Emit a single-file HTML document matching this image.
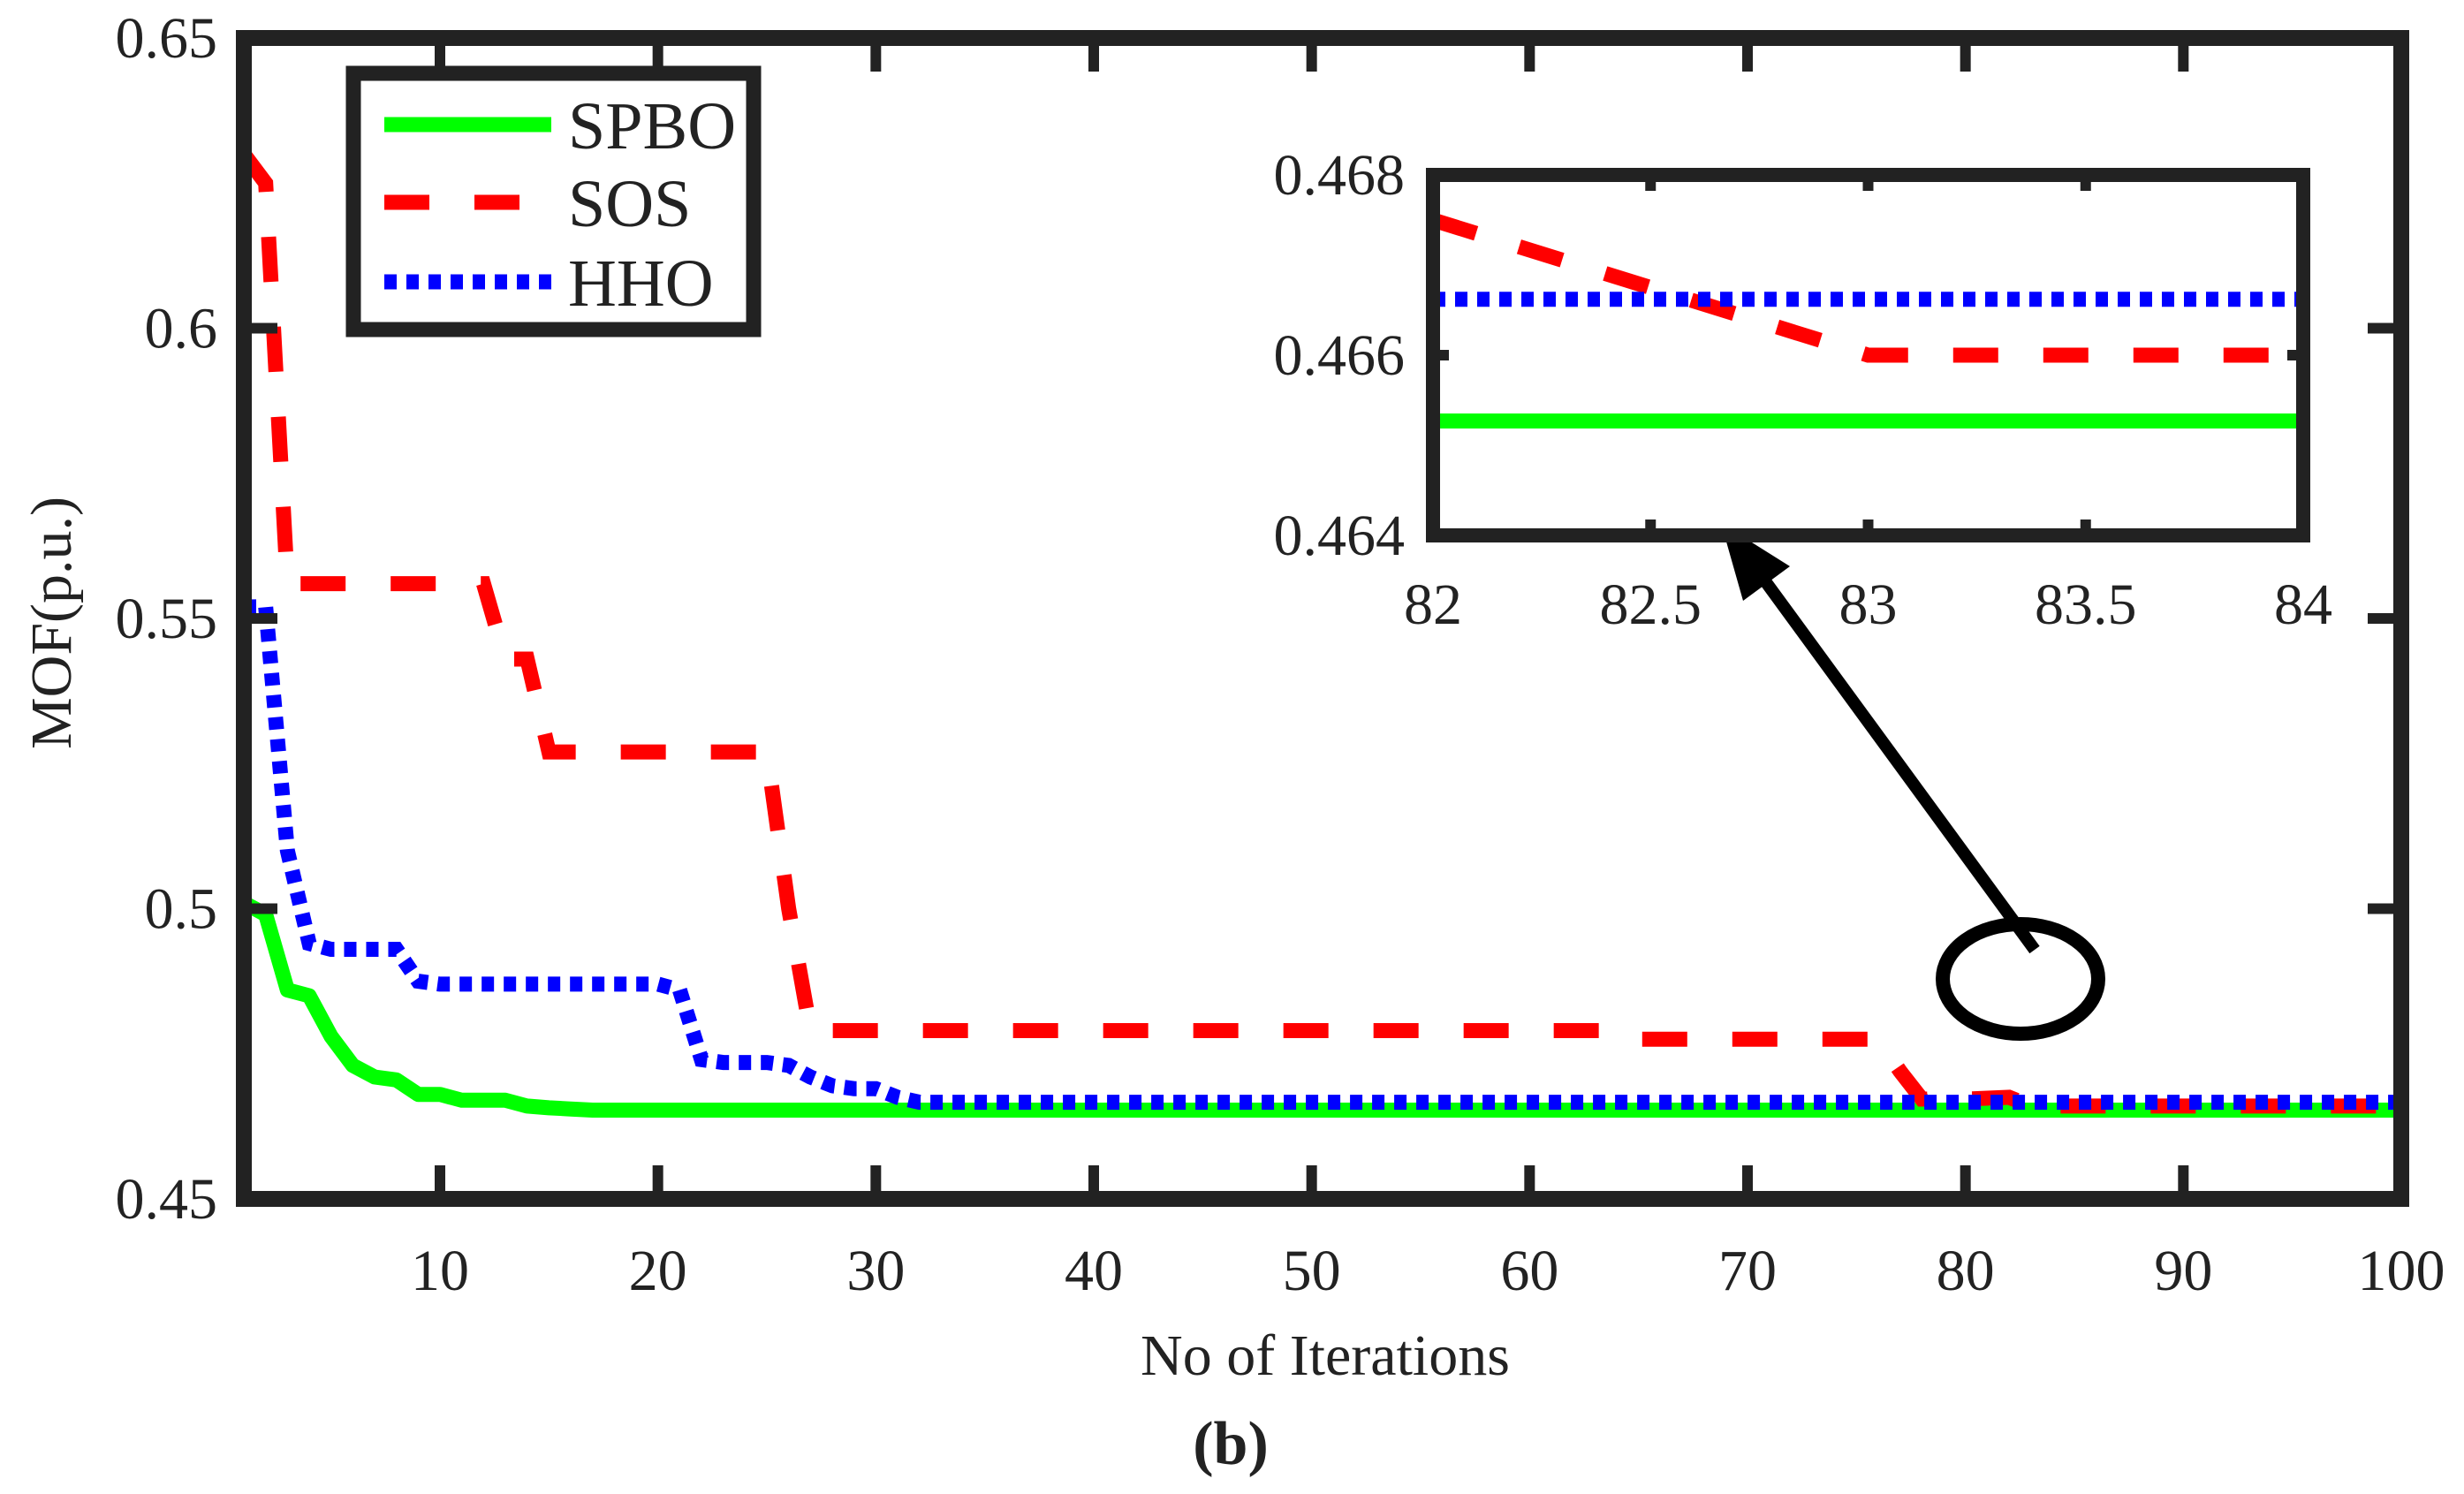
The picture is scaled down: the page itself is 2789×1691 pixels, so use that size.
<!DOCTYPE html>
<html><head><meta charset="utf-8"><style>
html,body{margin:0;padding:0;background:#fff;}
svg{display:block;}
</style></head><body>
<svg id="chart" width="2789" height="1691" viewBox="0 0 2789 1691" xmlns="http://www.w3.org/2000/svg">
<rect x="0" y="0" width="2789" height="1691" fill="#fff"/>
<g id="main"></g>
<g id="inset"></g>
</svg>
<script>
const iterations = [1,2,3,4,5,6,7,8,9,10,11,12,13,14,15,16,17,18,19,20,21,22,23,24,25,26,27,28,29,30,31,32,33,40,50,60,64,65,70,76,77,78,80,82,83,84,90,100];
const spbo = [0.501,0.499,0.486,0.485,0.478,0.473,0.471,0.4705,0.468,0.468,0.467,0.467,0.467,0.466,0.4657,0.4655,0.4653,0.4653,0.4653,0.4653,0.4653,0.4653,0.4653,0.4653,0.4653,0.4653,0.4653,0.4653,0.4653,0.4653,0.4653,0.4653,0.4653,0.4653,0.4653,0.4653,0.4653,0.4653,0.4653,0.4653,0.4653,0.4653,0.4653,0.4653,0.4653,0.4653,0.4653,0.4653];
const sos = [0.63,0.625,0.556,0.556,0.556,0.556,0.556,0.556,0.556,0.556,0.556,0.556,0.543,0.543,0.527,0.527,0.527,0.527,0.527,0.527,0.527,0.527,0.527,0.527,0.527,0.5,0.479,0.479,0.479,0.479,0.479,0.479,0.479,0.479,0.479,0.479,0.479,0.4775,0.4775,0.4775,0.472,0.4672,0.4672,0.4675,0.466,0.466,0.466,0.466];
const hho = [0.552,0.552,0.51,0.494,0.493,0.493,0.493,0.493,0.4875,0.487,0.487,0.487,0.487,0.487,0.487,0.487,0.487,0.487,0.487,0.487,0.486,0.474,0.4735,0.4735,0.4735,0.473,0.471,0.4695,0.469,0.469,0.4675,0.46665,0.46665,0.46665,0.46665,0.46665,0.46665,0.46665,0.46665,0.46665,0.46665,0.46665,0.46665,0.46665,0.46665,0.46665,0.46665,0.46665];
const xTicks = [10,20,30,40,50,60,70,80,90,100];
const yTicks = [0.45,0.5,0.55,0.6,0.65];
const yTickLabels = ["0.45","0.5","0.55","0.6","0.65"];
const insetX = [82,82.5,83,83.5,84];
const insetXLabels = ["82","82.5","83","83.5","84"];
const insetY = [0.464,0.466,0.468];
const insetYLabels = ["0.464","0.466","0.468"];
const insetSpbo = [0.46527,0.46527,0.46527];
const insetSos = [0.4675,0.466,0.466];
const insetHho = [0.46662,0.46662,0.46662];
const insetIter = [82,83,84];

const NS="http://www.w3.org/2000/svg";
const FF='"Liberation Serif","DejaVu Serif","Times New Roman",serif';
function mk(tag,attrs,parent,txt){const e=document.createElementNS(NS,tag);for(const k in attrs)e.setAttribute(k,attrs[k]);if(tag==='text'){e.setAttribute('font-family',FF);e.setAttribute('fill','#222');}if(txt!==undefined)e.textContent=txt;parent.appendChild(e);return e;}
const main=document.getElementById('main');
const L=276,R=2718,T=43,B=1357;
const xs=v=>L+(v-1)*(R-L)/99;
const ys=v=>T+(0.65-v)/0.2*(B-T);

function series(xArr,yArr,fx,fy,style,parent,name){
  const d=xArr.map((x,i)=>(i?'L':'M')+fx(x).toFixed(1)+' '+fy(yArr[i]).toFixed(1)).join(' ');
  const p=mk('path',Object.assign({d:d,fill:'none'},style),parent);
  
  
}
const sG={stroke:'#00ff00','stroke-width':17,'stroke-linejoin':'round'};
const sR={stroke:'#ff0000','stroke-width':17,'stroke-dasharray':'51 51'};
const sB={stroke:'#0000ff','stroke-width':17,'stroke-dasharray':'14 11'};

const defs=mk('defs',{},main);
const cp=mk('clipPath',{id:'mc'},defs);
mk('rect',{x:L,y:T,width:R-L,height:B-T},cp);
const plot=mk('g',{'clip-path':'url(#mc)'},main);
series(iterations,spbo,xs,ys,sG,plot,'spbo-line');
series(iterations,sos,xs,ys,sR,plot,'sos-line');
series(iterations,hho,xs,ys,sB,plot,'hho-line');

const box=mk('rect',{x:L,y:T,width:R-L,height:B-T,fill:'none',stroke:'#222','stroke-width':18},main);


xTicks.forEach(t=>{
  const x=xs(t);
  mk('line',{x1:x,y1:B,x2:x,y2:B-38,stroke:'#222','stroke-width':12},main);
  mk('line',{x1:x,y1:T,x2:x,y2:T+38,stroke:'#222','stroke-width':12},main);
  const tl=mk('text',{x:x,y:1460,'font-size':66,'text-anchor':'middle'},main,String(t));
  
  
});
yTicks.forEach((t,i)=>{
  const y=ys(t);
  mk('line',{x1:L,y1:y,x2:L+38,y2:y,stroke:'#222','stroke-width':12},main);
  mk('line',{x1:R,y1:y,x2:R-38,y2:y,stroke:'#222','stroke-width':12},main);
  const tl=mk('text',{x:246,y:y+22,'font-size':66,'text-anchor':'end'},main,yTickLabels[i]);
  
  
});
let t=mk('text',{x:1500,y:1556,'font-size':66,'text-anchor':'middle'},main,'No of Iterations');

t=mk('text',{x:0,y:0,'font-size':66,'text-anchor':'middle',transform:'translate(80,705) rotate(-90)'},main,'MOF(p.u.)');

t=mk('text',{x:1393,y:1657,'font-size':70,'font-weight':'bold','text-anchor':'middle'},main,'(b)');


const lg=mk('g',{},main);

mk('rect',{x:400,y:83,width:453,height:290,fill:'#fff',stroke:'#222','stroke-width':17},lg);
[['SPBO',sG,141],['SOS',sR,229],['HHO',sB,319]].forEach(e=>{
  const g=mk('g',{},lg);
  
  mk('line',Object.assign({x1:435,y1:e[2],x2:624,y2:e[2]},e[1]),g);
  mk('text',{x:643,y:e[2]+27,'font-size':76},g,e[0]);
});

const ins=document.getElementById('inset');

const IL=1622,IR=2607,IT=198,IB=606;
const ixs=v=>IL+(v-82)/2*(IR-IL);
const iys=v=>IT+(0.468-v)/0.004*(IB-IT);
mk('rect',{x:IL,y:IT,width:IR-IL,height:IB-IT,fill:'#fff'},ins);
series(insetIter,insetSpbo,ixs,iys,sG,ins,'inset-spbo-line');
series(insetIter,insetSos,ixs,iys,sR,ins,'inset-sos-line');
series(insetIter,insetHho,ixs,iys,sB,ins,'inset-hho-line');
mk('rect',{x:IL,y:IT,width:IR-IL,height:IB-IT,fill:'none',stroke:'#222','stroke-width':16},ins);
insetX.forEach((v,i)=>{
  const x=ixs(v);
  mk('line',{x1:x,y1:IB,x2:x,y2:IB-18,stroke:'#222','stroke-width':12},ins);
  mk('line',{x1:x,y1:IT,x2:x,y2:IT+18,stroke:'#222','stroke-width':12},ins);
  const tl=mk('text',{x:x,y:706,'font-size':66,'text-anchor':'middle'},ins,insetXLabels[i]);
  
});
insetY.forEach((v,i)=>{
  const y=iys(v);
  mk('line',{x1:IL,y1:y,x2:IL+18,y2:y,stroke:'#222','stroke-width':12},ins);
  mk('line',{x1:IR,y1:y,x2:IR-18,y2:y,stroke:'#222','stroke-width':12},ins);
  const tl=mk('text',{x:1590,y:y+22,'font-size':66,'text-anchor':'end'},ins,insetYLabels[i]);
  
});

const ann=mk('g',{},main);

mk('ellipse',{cx:2287,cy:1108,rx:88,ry:62,fill:'none',stroke:'#000','stroke-width':16},ann);
mk('line',{x1:2303,y1:1075,x2:1985,y2:640,stroke:'#000','stroke-width':14},ann);
mk('polygon',{points:'1948,592 2026,641 1973,680',fill:'#000'},ann);
</script>
</body></html>
